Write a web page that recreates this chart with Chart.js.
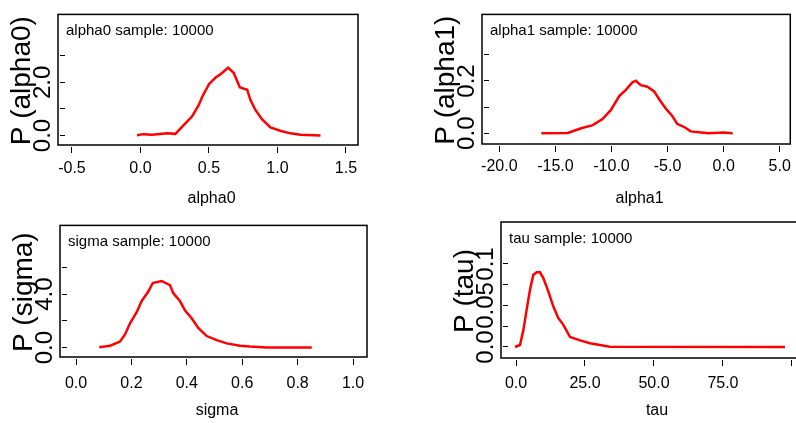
<!DOCTYPE html>
<html>
<head>
<meta charset="utf-8">
<script src="https://cdn.jsdelivr.net/npm/chart.js@4.4.0/dist/chart.umd.min.js"></script>
<style>
  html, body { margin: 0; padding: 0; background: #fff; overflow: hidden; }
  #wrap { position: relative; width: 796px; height: 423px; overflow: hidden; }
  canvas { position: absolute; }
</style>
</head>
<body>
<div id="wrap">
  <canvas id="c1" width="398" height="211" style="left:0;top:0"></canvas>
  <canvas id="c2" width="398" height="211" style="left:398px;top:0"></canvas>
  <canvas id="c3" width="398" height="212" style="left:0;top:211px"></canvas>
  <canvas id="c4" width="420" height="212" style="left:398px;top:211px"></canvas>
</div>
<script>
// alpha0 density
const alpha0X = [-0.025, 0.02, 0.085, 0.195, 0.255, 0.30, 0.377, 0.426, 0.45, 0.50, 0.547, 0.596, 0.64, 0.681, 0.725, 0.779, 0.803, 0.839, 0.888, 0.949, 1.02, 1.095, 1.168, 1.314];
const alpha0Y = [0.01, 0.05, 0.03, 0.08, 0.06, 0.3, 0.72, 1.15, 1.45, 1.93, 2.17, 2.35, 2.55, 2.35, 1.81, 1.72, 1.33, 0.96, 0.60, 0.30, 0.18, 0.08, 0.03, 0.0];
const alpha0XTicks = [-0.5, 0, 0.5, 1, 1.5];
const alpha0XLabels = ['-0.5', '0.0', '0.5', '1.0', '1.5'];
const alpha0YTicks = [0, 1, 2, 3];
const alpha0YLabels = ['0.0', '', '2.0', ''];

// alpha1 density
const alpha1X = [-16.25, -13.9, -12.7, -11.67, -10.8, -10.05, -9.31, -8.72, -8.13, -7.83, -7.39, -6.8, -6.2, -5.76, -5.17, -4.58, -4.14, -3.4, -2.95, -2.2, -1.33, 0.0, 0.8];
const alpha1Y = [0.0, 0.001, 0.019, 0.031, 0.054, 0.089, 0.142, 0.166, 0.195, 0.201, 0.184, 0.178, 0.16, 0.131, 0.095, 0.066, 0.036, 0.021, 0.007, 0.004, 0.0, 0.003, 0.0];
const alpha1XTicks = [-20, -15, -10, -5, 0, 5];
const alpha1XLabels = ['-20.0', '-15.0', '-10.0', '-5.0', '0.0', '5.0'];
const alpha1YTicks = [0, 0.1, 0.2, 0.3];
const alpha1YLabels = ['0.0', '', '0.2', ''];

// sigma density
const sigmaX = [0.084, 0.123, 0.159, 0.177, 0.195, 0.219, 0.237, 0.261, 0.277, 0.309, 0.339, 0.351, 0.375, 0.394, 0.418, 0.442, 0.472, 0.508, 0.544, 0.592, 0.628, 0.688, 0.851];
const sigmaY = [0.02, 0.14, 0.45, 0.98, 1.81, 2.64, 3.48, 4.19, 4.83, 4.98, 4.67, 4.07, 3.48, 2.76, 2.17, 1.45, 0.86, 0.55, 0.31, 0.14, 0.07, 0.0, 0.0];
const sigmaXTicks = [0, 0.2, 0.4, 0.6, 0.8, 1.0];
const sigmaXLabels = ['0.0', '0.2', '0.4', '0.6', '0.8', '1.0'];
const sigmaYTicks = [0, 2, 4, 6];
const sigmaYLabels = ['0.0', '', '4.0', ''];

// tau density
const tauX = [-0.36, 1.45, 2.66, 3.86, 5.07, 6.28, 7.49, 8.7, 9.9, 11.7, 13.5, 15.3, 17.1, 19.6, 23.2, 26.8, 30.4, 34, 97.5];
const tauY = [0, 0.0024, 0.02, 0.045, 0.069, 0.087, 0.09, 0.09, 0.083, 0.067, 0.049, 0.035, 0.027, 0.012, 0.008, 0.0045, 0.0024, 0.0004, 0];
const tauXTicks = [0, 25, 50, 75, 100];
const tauXLabels = ['0.0', '25.0', '50.0', '75.0', ''];
const tauYTicks = [0, 0.025, 0.05, 0.075, 0.1];
const tauYLabels = ['0.0', '', '0.05', '', '0.1'];

const FONT = "'Liberation Sans', Arial, sans-serif";

// frame box + "sample" note
const framePlugin = {
    id: 'frame',
    afterDraw(chart, args, opts) {
        const { ctx, chartArea: a } = chart;
        ctx.save();
        ctx.strokeStyle = '#000';
        ctx.lineWidth = 1.5;
        ctx.strokeRect(a.left - 7, a.top, a.right - a.left + 7, a.bottom - 2 - a.top);
        ctx.fillStyle = '#000';
        ctx.font = '15px ' + FONT;
        ctx.textAlign = 'left';
        ctx.textBaseline = 'alphabetic';
        ctx.fillText(opts.note, a.left + 1, a.top + 21);
        ctx.restore();
    }
};

function makePanel(id, p) {
    const canvas = document.getElementById(id);
    const pts = p.xs.map((x, i) => ({ x: x, y: p.ys[i] }));
    new Chart(canvas, {
        type: 'line',
        data: {
            datasets: [{
                data: pts,
                borderColor: '#ff0000',
                borderWidth: 2.5,
                pointRadius: 0,
                tension: 0,
                fill: false
            }]
        },
        options: {
            responsive: false,
            animation: false,
            layout: { padding: { left: p.padLeft, top: p.top, right: canvas.width - p.right, bottom: 0 } },
            plugins: {
                legend: { display: false },
                tooltip: { enabled: false },
                frame: { note: p.note }
            },
            scales: {
                x: {
                    type: 'linear',
                    min: p.xMin, max: p.xMax,
                    afterBuildTicks: s => { s.ticks = p.xTicks.map(v => ({ value: v })); },
                    afterFit: s => { s.height = canvas.height - p.bottom; },
                    border: { display: false },
                    grid: { drawOnChartArea: false, tickLength: 6, color: '#000', lineWidth: 1 },
                    ticks: {
                        autoSkip: false, maxRotation: 0,
                        padding: p.xPad,
                        color: '#000',
                        font: { family: FONT, size: 16 },
                        callback: v => { const i = p.xTicks.indexOf(v); return i < 0 ? '' : p.xLabels[i]; }
                    },
                    title: { display: true, text: p.xTitle, color: '#000', font: { family: FONT, size: 16 }, padding: { top: 0, bottom: 3 } }
                },
                y: {
                    min: p.yMin, max: p.yMax,
                    afterBuildTicks: s => { s.ticks = p.yTicks.map(v => ({ value: v })); },
                    afterFit: s => { s.width = p.left - p.padLeft; },
                    border: { display: false },
                    grid: { drawOnChartArea: false, tickLength: 5, color: '#000', lineWidth: 1 },
                    ticks: {
                        autoSkip: false, minRotation: 90, maxRotation: 90,
                        crossAlign: 'center',
                        padding: p.yPad,
                        color: '#000',
                        font: { family: FONT, size: 24 },
                        callback: v => { const i = p.yTicks.indexOf(v); return i < 0 ? '' : p.yLabels[i]; }
                    },
                    title: { display: true, text: p.yTitle, color: '#000', font: { family: FONT, size: 28 }, padding: { top: 4, bottom: 0 } }
                }
            }
        },
        plugins: [framePlugin]
    });
}

makePanel('c1', {
    xs: alpha0X, ys: alpha0Y, xTicks: alpha0XTicks, xLabels: alpha0XLabels, yTicks: alpha0YTicks, yLabels: alpha0YLabels,
    xMin: -0.551, xMax: 1.588, yMin: -0.434, yMax: 4.554,
    left: 65, right: 358, top: 9, bottom: 147, padLeft: 1, xPad: 6, yPad: 0,
    xTitle: 'alpha0', yTitle: 'P (alpha0)', note: 'alpha0 sample: 10000'
});
makePanel('c2', {
    xs: alpha1X, ys: alpha1Y, xTicks: alpha1XTicks, xLabels: alpha1XLabels, yTicks: alpha1YTicks, yLabels: alpha1YLabels,
    xMin: -20.92, xMax: 5.94, yMin: -0.049, yMax: 0.455,
    left: 91, right: 394, top: 3, bottom: 146, padLeft: 27, xPad: 5, yPad: 0,
    xTitle: 'alpha1', yTitle: 'P (alpha1)', note: 'alpha1 sample: 10000'
});
makePanel('c3', {
    xs: sigmaX, ys: sigmaY, xTicks: sigmaXTicks, xLabels: sigmaXLabels, yTicks: sigmaYTicks, yLabels: sigmaYLabels,
    xMin: -0.0325, xMax: 1.0505, yMin: -0.857, yMax: 9.14,
    left: 67, right: 367, top: 8, bottom: 148, padLeft: 3, xPad: 9, yPad: 0,
    xTitle: 'sigma', yTitle: 'P (sigma)', note: 'sigma sample: 10000'
});
makePanel('c4', {
    xs: tauX, ys: tauY, xTicks: tauXTicks, xLabels: tauXLabels, yTicks: tauYTicks, yLabels: tauYLabels,
    xMin: -2.9, xMax: 105.1, yMin: -0.0157, yMax: 0.1506,
    left: 110, right: 408, top: 11, bottom: 149, padLeft: 46, xPad: 8, yPad: -7,
    xTitle: 'tau', yTitle: 'P (tau)', note: 'tau sample: 10000'
});
</script>
</body>
</html>
